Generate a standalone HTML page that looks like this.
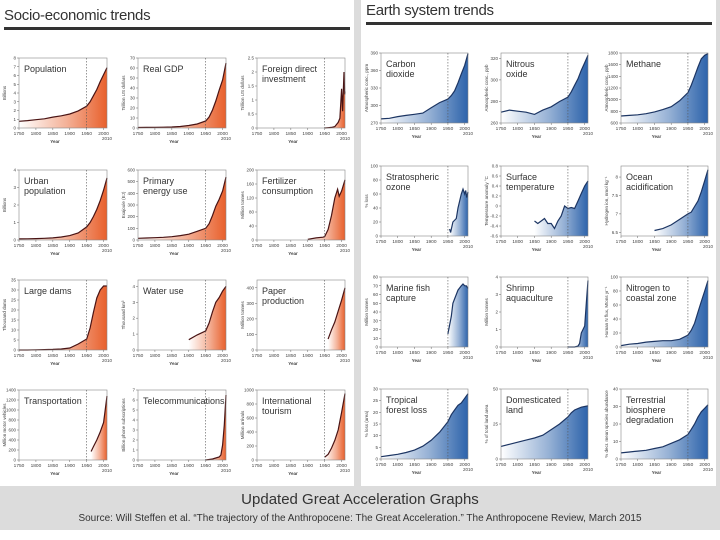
<!DOCTYPE html>
<html><head><meta charset="utf-8"><style>
body{margin:0;width:720px;height:540px;background:#dcdcdc;font-family:"Liberation Sans",sans-serif;overflow:hidden;position:relative}
.panel{position:absolute;background:#fff}
.hdr{position:absolute;font-size:15px;color:#333;font-family:"Liberation Sans Narrow","Liberation Sans",sans-serif;letter-spacing:-0.3px}
.rule{position:absolute;height:3px;background:#333}
.cap{position:absolute;width:720px;text-align:center;color:#333;font-family:"Liberation Sans Narrow","Liberation Sans",sans-serif}
</style></head><body>
<div class="panel" style="left:0;top:0;width:354px;height:486px"></div>
<div class="panel" style="left:361px;top:0;width:355px;height:486px"></div>
<div class="hdr" style="left:4px;top:7px">Socio-economic trends</div>
<div class="rule" style="left:4px;top:27px;width:346px"></div>
<div class="hdr" style="left:366px;top:2px">Earth system trends</div>
<div class="rule" style="left:366px;top:22px;width:346px"></div>
<div style="position:absolute;left:0;top:530px;width:720px;height:10px;background:#fff"></div>
<div class="cap" style="top:491px;font-size:15px">Updated Great Acceleration Graphs</div>
<div class="cap" style="top:513px;font-size:10px">Source: Will Steffen et al. “The trajectory of the Anthropocene: The Great Acceleration.” The Anthropocene Review, March 2015</div>
<svg id="s" width="720" height="540" style="position:absolute;left:0;top:0"></svg>
<script>
const popYears=[1750,1775,1800,1825,1850,1875,1900,1925,1950,1960,1970,1980,1990,2000,2010];
const popVals=[.77,.85,.95,1.05,1.25,1.4,1.6,1.95,2.5,3.0,3.7,4.4,5.3,6.1,6.9];
const gdpVals=[.5,.6,.7,.8,1,1.5,2.5,4,7,11,18,27,38,48,65];
const fdiYears=[1950,1960,1970,1980,1990,1995,2000,2003,2007,2009,2010];
const fdiVals=[0,.01,.02,.05,.2,.35,1.4,.6,2.0,1.2,1.3];
const urbanVals=[.06,.07,.08,.1,.12,.17,.25,.4,.75,1.0,1.35,1.75,2.25,2.85,3.55];
const energyVals=[15,17,20,23,28,38,50,75,100,140,210,290,350,420,540];
const fertYears=[1900,1925,1945,1950,1960,1970,1980,1988,1993,2000,2010];
const fertVals=[2,6,8,10,30,70,120,145,125,140,172];
const damsVals=[0,0,.1,.2,.3,.5,1,3,5.5,11,19,26,30,32,32];
const waterYears=[1900,1925,1950,1960,1970,1980,1990,2000,2010];
const waterVals=[.65,.95,1.2,1.7,2.4,3.0,3.3,3.7,4.0];
const paperYears=[1960,1970,1980,1990,2000,2010];
const paperVals=[70,130,180,250,320,400];
const transYears=[1963,1970,1980,1990,2000,2010];
const transVals=[170,270,400,560,750,1280];
const telYears=[1950,1960,1970,1980,1990,1995,2000,2005,2010];
const telVals=[0,.05,.1,.2,.3,.5,1.5,3.5,6.5];
const tourYears=[1950,1960,1970,1980,1990,2000,2010];
const tourVals=[40,80,170,280,430,680,950];
const co2Vals=[277,278,281,283,285,287,296,305,311,317,325,339,354,369,389];
const n2oVals=[270,272,271,270,268,272,275,280,284,289,295,301,309,316,323];
const ch4Vals=[720,730,740,760,790,830,880,980,1120,1250,1400,1560,1700,1760,1790];
const ozoneYears=[1955,1958,1965,1975,1980,1990,1995,2000,2003,2006,2010];
const ozoneVals=[10,5,20,25,40,60,67,60,65,55,63];
const tempYears=[1850,1860,1870,1880,1890,1900,1910,1920,1930,1940,1950,1960,1970,1980,1990,2000,2010];
const tempVals=[-.3,-.35,-.3,-.25,-.35,-.35,-.45,-.3,-.2,0,-.05,-.03,-.05,.1,.25,.4,.5];
const oceanYears=[1850,1875,1900,1925,1950,1960,1970,1980,1990,2000,2010];
const oceanVals=[6.55,6.6,6.7,6.85,7.0,7.05,7.2,7.35,7.6,7.9,8.2];
const fishYears=[1950,1955,1960,1965,1970,1975,1980,1990,1995,2000,2005,2010];
const fishVals=[15,25,35,50,55,60,65,70,72,70,70,67];
const shrimpYears=[1950,1970,1980,1985,1990,2000,2005,2010];
const shrimpVals=[0,0,.05,.2,.8,1.2,2.5,3.8];
const nitroVals=[2,4,5,7,8,9,9,11,17,24,34,50,65,80,95];
const forestVals=[1,1.5,2,2.8,3.8,5.5,8,11.5,16,19,21,23,24,26,28];
const landVals=[9,10.5,12,13.5,15,17,21,25,30,33,35,36,37,37.5,38];
const bioVals=[3.5,4,4.5,5,6,7,9,11,14,17,20,24,27,29,31];

const xTicks=[1750,1800,1850,1900,1950,2000];
const charts=[
 {t:["Population"],u:"Billions",x:popYears,v:popVals,lo:0,hi:8,tk:[0,1,2,3,4,5,6,7,8],c:0,r:0,p:0},
 {t:["Real GDP"],u:"Trillion US dollars",x:popYears,v:gdpVals,lo:0,hi:70,tk:[0,10,20,30,40,50,60,70],c:1,r:0,p:0},
 {t:["Foreign direct","investment"],u:"Trillion US dollars",x:fdiYears,v:fdiVals,lo:0,hi:2.5,tk:[0,.5,1,1.5,2,2.5],c:2,r:0,p:0},
 {t:["Urban","population"],u:"Billions",x:popYears,v:urbanVals,lo:0,hi:4,tk:[0,1,2,3,4],c:0,r:1,p:0},
 {t:["Primary","energy use"],u:"Exajoule (EJ)",x:popYears,v:energyVals,lo:0,hi:600,tk:[0,100,200,300,400,500,600],c:1,r:1,p:0},
 {t:["Fertilizer","consumption"],u:"Million tonnes",x:fertYears,v:fertVals,lo:0,hi:200,tk:[0,40,80,120,160,200],c:2,r:1,p:0},
 {t:["Large dams"],u:"Thousand dams",x:popYears,v:damsVals,lo:0,hi:35,tk:[0,5,10,15,20,25,30,35],c:0,r:2,p:0},
 {t:["Water use"],u:"Thousand km³",x:waterYears,v:waterVals,lo:0,hi:4.4,tk:[0,1,2,3,4],c:1,r:2,p:0},
 {t:["Paper","production"],u:"Million tonnes",x:paperYears,v:paperVals,lo:0,hi:450,tk:[0,100,200,300,400],c:2,r:2,p:0},
 {t:["Transportation"],u:"Million motor vehicles",x:transYears,v:transVals,lo:0,hi:1400,tk:[0,200,400,600,800,1000,1200,1400],c:0,r:3,p:0},
 {t:["Telecommunications"],u:"Billion phone subscriptions",x:telYears,v:telVals,lo:0,hi:7,tk:[0,1,2,3,4,5,6,7],c:1,r:3,p:0},
 {t:["International","tourism"],u:"Million arrivals",x:tourYears,v:tourVals,lo:0,hi:1000,tk:[0,200,400,600,800,1000],c:2,r:3,p:0},
 {t:["Carbon","dioxide"],u:"Atmospheric conc., ppm",x:popYears,v:co2Vals,lo:270,hi:390,tk:[270,300,330,360,390],c:0,r:0,p:1},
 {t:["Nitrous","oxide"],u:"Atmospheric conc., ppb",x:popYears,v:n2oVals,lo:260,hi:325,tk:[260,280,300,320],c:1,r:0,p:1},
 {t:["Methane"],u:"Atmospheric conc., ppb",x:popYears,v:ch4Vals,lo:600,hi:1800,tk:[600,800,1000,1200,1400,1600,1800],c:2,r:0,p:1},
 {t:["Stratospheric","ozone"],u:"% loss",x:ozoneYears,v:ozoneVals,lo:0,hi:100,tk:[0,20,40,60,80,100],c:0,r:1,p:1},
 {t:["Surface","temperature"],u:"Temperature anomaly °C",x:tempYears,v:tempVals,lo:-.6,hi:.8,tk:[-.6,-.4,-.2,0,.2,.4,.6,.8],c:1,r:1,p:1},
 {t:["Ocean","acidification"],u:"Hydrogen ion, nmol kg⁻¹",x:oceanYears,v:oceanVals,lo:6.4,hi:8.3,tk:[6.5,7.0,7.5,8.0],c:2,r:1,p:1},
 {t:["Marine fish","capture"],u:"Million tonnes",x:fishYears,v:fishVals,lo:0,hi:80,tk:[0,10,20,30,40,50,60,70,80],c:0,r:2,p:1},
 {t:["Shrimp","aquaculture"],u:"Million tonnes",x:shrimpYears,v:shrimpVals,lo:0,hi:4,tk:[0,1,2,3,4],c:1,r:2,p:1},
 {t:["Nitrogen to","coastal zone"],u:"Human N flux, Mtons yr⁻¹",x:popYears,v:nitroVals,lo:0,hi:100,tk:[0,20,40,60,80,100],c:2,r:2,p:1},
 {t:["Tropical","forest loss"],u:"% loss (area)",x:popYears,v:forestVals,lo:0,hi:30,tk:[0,5,10,15,20,25,30],c:0,r:3,p:1},
 {t:["Domesticated","land"],u:"% of total land area",x:popYears,v:landVals,lo:0,hi:50,tk:[0,25,50],c:1,r:3,p:1},
 {t:["Terrestrial","biosphere","degradation"],u:"% decr. mean species abundance",x:popYears,v:bioVals,lo:0,hi:40,tk:[0,10,20,30,40],c:2,r:3,p:1}
];
const geo=[{cx:[19,138,257],rt:[58,170,280,390],w:88,h:70},{cx:[381,501,621],rt:[53,166,277,389],w:87,h:70}];
const pal=[{f:"#e8602c",l:"#4a1414"},{f:"#2d63ab",l:"#1c3563"}];
const NS="http://www.w3.org/2000/svg",svg=document.getElementById('s');
function mk(tag,at,par){const e=document.createElementNS(NS,tag);for(const k in at)e.setAttribute(k,at[k]);(par||svg).appendChild(e);return e;}
const defs=mk('defs',{});
charts.forEach((ch,i)=>{
 const g=geo[ch.p],X0=g.cx[ch.c],Y0=g.rt[ch.r],W=g.w,H=g.h,col=pal[ch.p];
 const xs=y=>X0+(y-1750)/(2010-1750)*W, ys=v=>Y0+H-(v-ch.lo)/(ch.hi-ch.lo)*H;
 const grp=mk('g',{});
 
 
 const gid='gr'+i,x1=xs(ch.x[0]),x2=xs(ch.x[ch.x.length-1]);
 const lg=mk('linearGradient',{id:gid,gradientUnits:'userSpaceOnUse',x1:x1,y1:0,x2:x2,y2:0},defs);
 mk('stop',{offset:0,'stop-color':col.f,'stop-opacity':0},lg);
 mk('stop',{offset:.55,'stop-color':col.f,'stop-opacity':.5},lg);
 mk('stop',{offset:1,'stop-color':col.f,'stop-opacity':1},lg);
 const pts=ch.x.map((y,k)=>xs(y).toFixed(1)+','+ys(ch.v[k]).toFixed(1));
 const bY=ch.lo<0?Y0+H:ys(Math.max(ch.lo,0));
 const area=mk('path',{d:'M'+x1+','+bY+' L'+pts.join(' L')+' L'+x2+','+bY+'Z',fill:'url(#'+gid+')'},grp);
 
 const ln=mk('polyline',{points:pts.join(' '),fill:'none',stroke:col.l,'stroke-width':1.2},grp);
 
 mk('rect',{x:X0,y:Y0,width:W,height:H,fill:'none',stroke:'#888','stroke-width':.6},grp);
 mk('line',{x1:xs(1950),x2:xs(1950),y1:Y0,y2:Y0+H,stroke:'#555','stroke-width':.6,'stroke-dasharray':'1.5,1.5'},grp);
 ch.t.forEach((s,k)=>{const t=mk('text',{x:X0+5,y:Y0+14+k*10,'font-size':9,fill:'#333','font-family':'"Liberation Sans Narrow","Liberation Sans",sans-serif'},grp);t.textContent=s;
  });
 ch.tk.forEach(v=>{mk('line',{x1:X0-2,x2:X0,y1:ys(v),y2:ys(v),stroke:'#666','stroke-width':.5},grp);
  const t=mk('text',{x:X0-3,y:ys(v)+1.5,'font-size':4.5,'text-anchor':'end',fill:'#444'},grp);t.textContent=v;
  });
 xTicks.forEach(y=>{mk('line',{x1:xs(y),x2:xs(y),y1:Y0+H,y2:Y0+H+2,stroke:'#666','stroke-width':.5},grp);
  const t=mk('text',{x:xs(y),y:Y0+H+7,'font-size':4.8,'text-anchor':'middle',fill:'#444'},grp);t.textContent=y;
  });
 const t10=mk('text',{x:X0+W,y:Y0+H+12,'font-size':4.5,'text-anchor':'middle',fill:'#444'},grp);t10.textContent='2010';
 
 const yr=mk('text',{x:X0+W/2-8,y:Y0+H+15,'font-size':4.5,'font-weight':'bold','text-anchor':'middle',fill:'#444'},grp);yr.textContent='Year';
 
 const ut=mk('text',{x:0,y:0,'font-size':4.5,'text-anchor':'middle',fill:'#444',transform:'translate('+(X0-13)+','+(Y0+H/2)+') rotate(-90)'},grp);ut.textContent=ch.u;
 
});
</script>
</body></html>
